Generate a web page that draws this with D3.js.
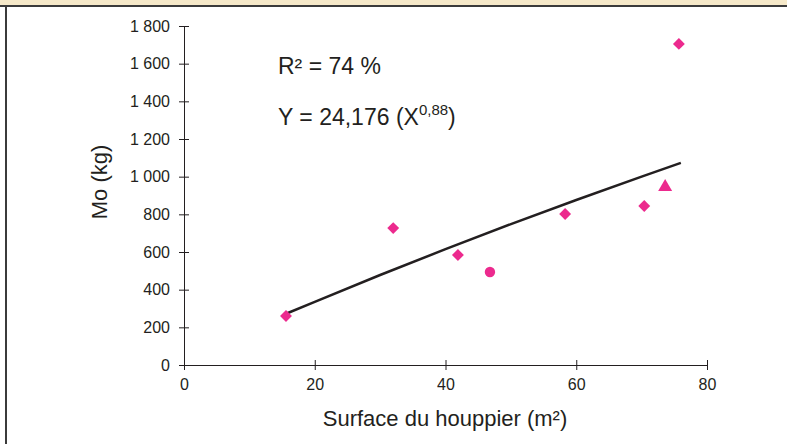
<!DOCTYPE html>
<html>
<head>
<meta charset="utf-8">
<script src="https://cdn.jsdelivr.net/npm/d3@7"></script>
<style>
	body { margin: 0; background: #fff; }
	svg { display: block; font-family: "Liberation Sans", Arial, sans-serif; }
</style>
</head>
<body>
<div id="chart"></div>
<script>
// Observed points (surface du houppier, Mo) and their marker shape
var surface = [15.6, 32.0, 41.9, 46.8, 58.3, 70.4, 73.6, 75.7];
var masse = [260, 727, 584, 494, 802, 844, 945, 1705];
var shapes = ["diamond", "diamond", "diamond", "circle", "diamond", "diamond", "triangle", "diamond"];

// Fitted curve
var fitX = [15.6, 20, 30, 40, 50, 60, 70, 76];
var fitY = [272, 335, 478, 615, 748, 876, 1000, 1073];

var xTicks = [0, 20, 40, 60, 80];
var yTicks = [0, 200, 400, 600, 800, 1000, 1200, 1400, 1600, 1800];

var width = 787,
	height = 444;

var svg = d3.select("#chart").append("svg").attr("width", width).attr("height", height);

// Frame: beige band on top, dark rule, dark left edge
svg.append("rect").attr("x", 0).attr("y", 0).attr("width", width).attr("height", 5).attr("fill", "#f6e9c9");
svg.append("rect").attr("x", 0).attr("y", 5).attr("width", width).attr("height", 2).attr("fill", "#3b3b3b");
svg.append("rect").attr("x", 5).attr("y", 5).attr("width", 2).attr("height", height - 5).attr("fill", "#3b3b3b");

var ink = "#231f20";
var pink = "#ec2a8e";

var x = d3.scaleLinear().domain([0, 80]).range([184, 707]);
var y = d3.scaleLinear().domain([0, 1800]).range([365, 26]);

var fmt = function (d) {
	return d3.format(",")(d).replace(",", " ");
};

// Y axis
var yAxis = svg
	.append("g")
	.attr("transform", "translate(184,0)")
	.call(d3.axisLeft(y).tickValues(yTicks).tickFormat(fmt).tickSize(5).tickPadding(9).tickSizeOuter(0));
yAxis.select(".domain").attr("stroke", ink);
yAxis.selectAll(".tick line").attr("stroke", ink).attr("x2", 5).attr("x1", -5);
yAxis.selectAll(".tick text").attr("fill", ink).style("font-size", "16px");

// X axis
var xAxis = svg
	.append("g")
	.attr("transform", "translate(0,365)")
	.call(d3.axisBottom(x).tickValues(xTicks).tickSize(5).tickPadding(9).tickSizeOuter(0));
xAxis.select(".domain").attr("stroke", ink);
xAxis.selectAll(".tick line").attr("stroke", ink).attr("y1", -5).attr("y2", 5);
xAxis.selectAll(".tick text").attr("fill", ink).style("font-size", "16px");

// Axis titles
svg
	.append("text")
	.attr("x", 445)
	.attr("y", 426)
	.attr("text-anchor", "middle")
	.attr("fill", ink)
	.style("font-size", "22px")
	.text("Surface du houppier (m²)");
svg
	.append("text")
	.attr("transform", "translate(107,182) rotate(-90)")
	.attr("text-anchor", "middle")
	.attr("fill", ink)
	.style("font-size", "22px")
	.text("Mo (kg)");

// Equation text
svg
	.append("text")
	.attr("x", 278)
	.attr("y", 74)
	.attr("fill", ink)
	.style("font-size", "23px")
	.text("R² = 74 %");
var eq = svg.append("text").attr("x", 278).attr("y", 125).attr("fill", ink).style("font-size", "23px");
eq.append("tspan").text("Y = 24,176 (X");
eq.append("tspan").attr("dy", -10).style("font-size", "15px").text("0,88");
eq.append("tspan").attr("dy", 10).text(")");

// Fitted line
var fit = fitX.map(function (d, i) {
	return [d, fitY[i]];
});
svg
	.append("path")
	.datum(fit)
	.attr("fill", "none")
	.attr("stroke", ink)
	.attr("stroke-width", 2.5)
	.attr(
		"d",
		d3
			.line()
			.x(function (d) {
				return x(d[0]);
			})
			.y(function (d) {
				return y(d[1]);
			})
	);

// Points
var symbolType = {
	diamond: d3.symbolDiamond2,
	circle: d3.symbolCircle,
	triangle: d3.symbolTriangle,
};
var symbolSize = { diamond: 90, circle: 85, triangle: 85 };
svg
	.selectAll(".pt")
	.data(surface)
	.enter()
	.append("path")
	.attr("class", "pt")
	.attr("fill", pink)
	.attr("transform", function (d, i) {
		return "translate(" + x(d) + "," + y(masse[i]) + ")";
	})
	.attr("d", function (d, i) {
		return d3.symbol().type(symbolType[shapes[i]]).size(symbolSize[shapes[i]])();
	});
</script>
</body>
</html>
